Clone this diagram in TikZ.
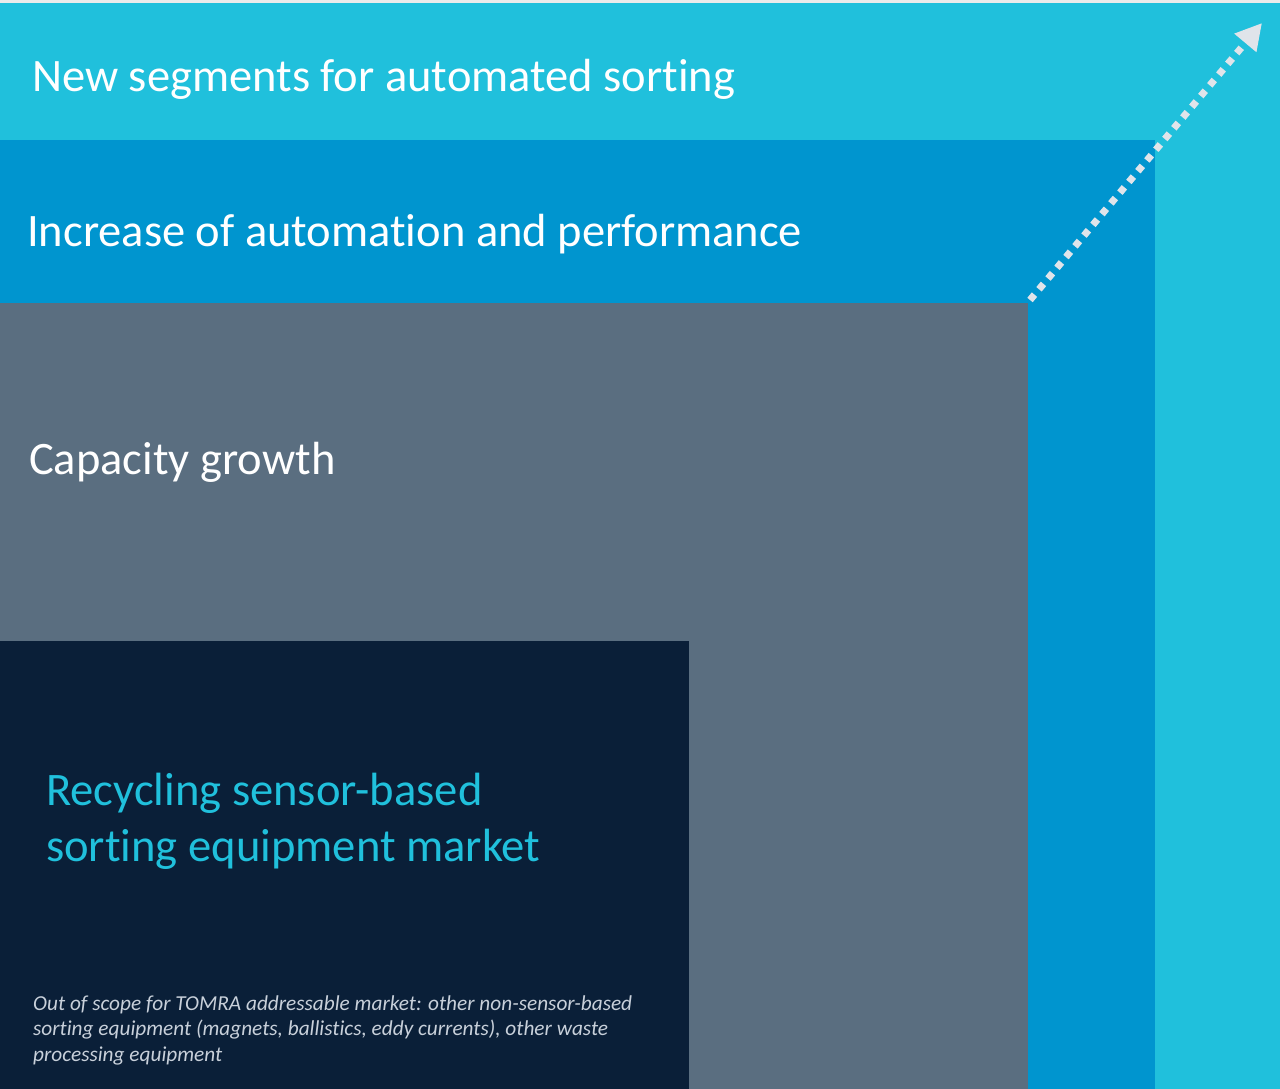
\documentclass[tikz,border=0pt]{standalone}
\usepackage{fontspec}
\setmainfont{Carlito}[Ligatures=NoCommon]
\usetikzlibrary{arrows.meta}
\definecolor{cyanband}{HTML}{20C0DC}
\definecolor{blueband}{HTML}{0095CF}
\definecolor{grayband}{HTML}{5A6E80}
\definecolor{darkband}{HTML}{0A1F38}
\definecolor{arrowgray}{HTML}{E0E4EA}
\definecolor{notegray}{HTML}{C8D0DA}
\definecolor{topstrip}{HTML}{EBEBEB}
\tikzset{
  bigtext/.style={anchor=base west, inner sep=0pt, text=white, font=\fontsize{46.5}{50}\selectfont},
  markettext/.style={anchor=base west, inner sep=0pt, text=cyanband, font=\fontsize{46.6}{56}\selectfont},
  notetext/.style={anchor=base west, inner sep=0pt, text=notegray, font=\fontsize{21.3}{25.5}\selectfont\itshape, align=left},
  growarrow/.style={draw=arrowgray, line width=7pt, dash pattern=on 7pt off 7pt, -{Triangle[length=26pt,width=27pt]}}
}
\begin{document}
\begin{tikzpicture}[x=1pt,y=-1pt]
\useasboundingbox (0,0) rectangle (1280,1089);
\fill[topstrip] (0,0) rectangle (1280,3);
\fill[cyanband] (0,3) rectangle (1280,1089);
\fill[blueband] (0,140) rectangle (1155,1089);
\fill[grayband] (0,303) rectangle (1028,1089);
\fill[darkband] (0,641) rectangle (689,1089);
\node[bigtext] (seg) at (32,92) {New segments for automated sorting};
\node[bigtext] (auto) at (27,246) {Increase of automation and performance};
\node[bigtext] (cap) at (29,474) {Capacity growth};
\node[markettext] (mkt1) at (46,805) {Recycling sensor-based};
\node[markettext] (mkt2) at (46,861) {sorting equipment market};
\node[notetext] (note) at (33,1061) {Out of scope for TOMRA addressable market: other non-sensor-based\\sorting equipment (magnets, ballistics, eddy currents), other waste\\processing equipment};
\coordinate (corner) at (1030,300);
\coordinate (tip) at (1262,23);
\draw[growarrow] (corner) -- (tip);
\end{tikzpicture}
\end{document}
